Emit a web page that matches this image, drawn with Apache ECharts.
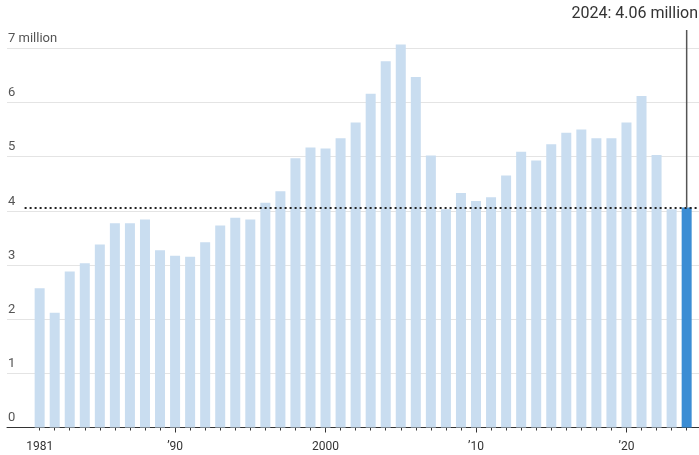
<!DOCTYPE html>
<html>
<head>
<meta charset="utf-8">
<script src="https://cdn.jsdelivr.net/npm/echarts@6/dist/echarts.min.js"></script>
<style>
  html, body { margin: 0; padding: 0; background: #fff; }
  #chart { width: 699px; height: 455px; }
</style>
</head>
<body>
<div id="chart"></div>
<script>
// Existing-home sales per year, millions
const years = [
  1981, 1982, 1983, 1984, 1985, 1986, 1987, 1988, 1989, 1990,
  1991, 1992, 1993, 1994, 1995, 1996, 1997, 1998, 1999, 2000,
  2001, 2002, 2003, 2004, 2005, 2006, 2007, 2008, 2009, 2010,
  2011, 2012, 2013, 2014, 2015, 2016, 2017, 2018, 2019, 2020,
  2021, 2022, 2023, 2024
];
const sales = [
  2.57, 2.12, 2.88, 3.03, 3.38, 3.77, 3.77, 3.84, 3.27, 3.17,
  3.15, 3.42, 3.73, 3.87, 3.84, 4.15, 4.36, 4.97, 5.17, 5.15,
  5.34, 5.63, 6.16, 6.76, 7.07, 6.47, 5.02, 4.03, 4.33, 4.18,
  4.25, 4.65, 5.09, 4.93, 5.23, 5.44, 5.50, 5.34, 5.34, 5.63,
  6.12, 5.03, 4.03, 4.06
];
const xTickYears = [1981, 1990, 2000, 2010, 2020];
const xTickLabels = ['1981', '\u201990', '2000', '\u201910', '\u201920'];
const yTicks = [0, 1, 2, 3, 4, 5, 6, 7];
const latestYear = 2024;
const latestValue = 4.06;

const FONT = 'Roboto, "Noto Sans", sans-serif';
const LIGHT = '#c9ddf0';
const DARK = '#3b8dd4';

const chart = echarts.init(document.getElementById('chart'), null, { renderer: 'canvas' });

const barData = years.map((y, i) => ({
  value: [y, sales[i]],
  itemStyle: { color: y === latestYear ? DARK : LIGHT }
}));

const xRange = { min: 1978.83, max: 2024.82 };

chart.setOption({
  animation: false,
  backgroundColor: '#fff',
  grid: { left: 7, right: 0, top: 48.3, bottom: 27.5, containLabel: false },
  xAxis: [
    {
      type: 'value',
      min: xRange.min,
      max: xRange.max,
      splitLine: { show: false },
      axisLine: { show: true, onZero: false, lineStyle: { color: '#333', width: 1 } },
      axisTick: { show: true, length: 5, customValues: xTickYears.slice(1), lineStyle: { color: '#333' } },
      axisLabel: {
        customValues: xTickYears,
        formatter: v => xTickLabels[xTickYears.indexOf(v)] || '',
        margin: 13,
        fontFamily: FONT,
        fontSize: 12,
        color: '#333'
      }
    },
    {
      type: 'value',
      position: 'bottom',
      min: xRange.min,
      max: xRange.max,
      splitLine: { show: false },
      axisLine: { show: false },
      axisTick: { show: true, length: 3, customValues: years, lineStyle: { color: '#333' } },
      axisLabel: { show: false }
    }
  ],
  yAxis: {
    type: 'value',
    min: 0,
    max: 7,
    interval: 1,
    axisLine: { show: false },
    axisTick: { show: false },
    splitLine: { lineStyle: { color: '#e4e4e4', width: 1 } },
    axisLabel: {
      inside: true,
      margin: 1,
      align: 'left',
      verticalAlign: 'bottom',
      padding: [0, 0, 3, 0],
      fontFamily: FONT,
      fontSize: 13,
      color: '#555',
      customValues: yTicks,
      formatter: v => (v === 7 ? '7 million' : String(v))
    }
  },
  series: [
    {
      type: 'bar',
      xAxisIndex: 0,
      clip: false,
      barWidth: 10,
      data: barData,
      markLine: {
        silent: true,
        symbol: 'none',
        label: { show: false },
        lineStyle: { color: '#222', width: 2, type: [2, 3], opacity: 1 },
        data: [
          [ { coord: [1980, latestValue] }, { coord: [xRange.max, latestValue] } ]
        ]
      }
    }
  ]
});

// Callout for the latest year: leader line from the bar top up to the label
const barTop = chart.convertToPixel({ gridIndex: 0 }, [latestYear, latestValue]);
chart.setOption({
  graphic: [
    {
      type: 'line',
      shape: { x1: barTop[0], y1: 30, x2: barTop[0], y2: barTop[1] },
      style: { stroke: '#555', lineWidth: 1.5 },
      z: 10
    },
    {
      type: 'text',
      x: 698,
      y: 14,
      style: {
        text: latestYear + ': ' + latestValue.toFixed(2) + ' million',
        fontFamily: FONT,
        fontSize: 16,
        fill: '#333',
        align: 'right',
        verticalAlign: 'middle'
      },
      z: 10
    }
  ]
});
</script>
</body>
</html>
